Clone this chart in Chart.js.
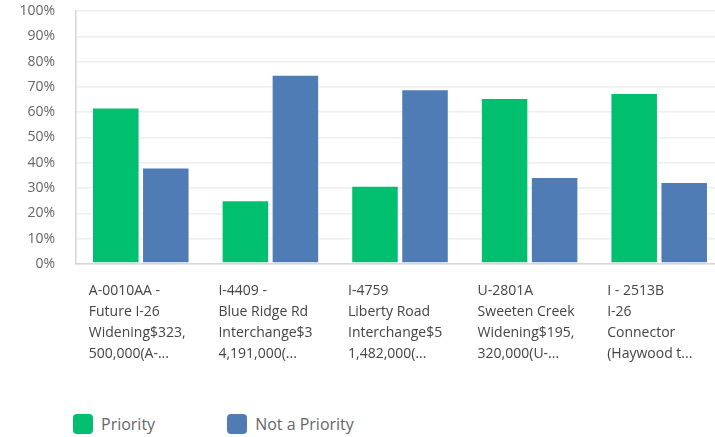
<!DOCTYPE html>
<html>
<head>
<meta charset="utf-8">
<script src="https://cdn.jsdelivr.net/npm/chart.js"></script>
<style>
    html, body { margin: 0; padding: 0; background: #fff; overflow: hidden; }
    body { width: 715px; height: 437px; position: relative; }
    #wrap { position: absolute; left: 0; top: 0; width: 726px; height: 400px; }
    #legend { position: absolute; left: 73px; top: 413px; display: flex; font: 16px "Open Sans", sans-serif; color: #666; }
    #legend .item { display: flex; align-items: center; margin-right: 72px; height: 21px; }
    #legend .box { width: 20px; height: 20px; border-radius: 4px; margin-right: 8px; }
</style>
</head>
<body>
<div id="wrap"><canvas id="surveyChart"></canvas></div>
<div id="legend"></div>
<script>
    // categories (x labels, already wrapped/truncated like the survey tool does)
    const projects = [
        ['A-0010AA -', 'Future I-26', 'Widening$323,', '500,000(A-...'],
        ['I-4409 -', 'Blue Ridge Rd', 'Interchange$3', '4,191,000(...'],
        ['I-4759', 'Liberty Road', 'Interchange$5', '1,482,000(...'],
        ['U-2801A', 'Sweeten Creek', 'Widening$195,', '320,000(U-...'],
        ['I - 2513B', 'I-26', 'Connector', '(Haywood t...']
    ];

    // percent of responses
    const priority    = [61.9, 25.2, 30.9, 65.6, 67.6];
    const notPriority = [38.1, 74.8, 69.1, 34.4, 32.4];

    const yTicks = [0, 10, 20, 30, 40, 50, 60, 70, 80, 90, 100];

    const green = '#00bf6f';
    const blue = '#507cb6';
    const fontFamily = '"Open Sans", sans-serif';

    const chart = new Chart(document.getElementById('surveyChart'), {
        type: 'bar',
        data: {
            labels: projects,
            datasets: [
                { label: 'Priority', data: priority, backgroundColor: green },
                { label: 'Not a Priority', data: notPriority, backgroundColor: blue }
            ]
        },
        options: {
            responsive: true,
            maintainAspectRatio: false,
            animation: false,
            layout: { padding: { left: 0, right: 2, top: 11, bottom: 0 } },
            datasets: {
                bar: {
                    categoryPercentage: 0.772,
                    barPercentage: 0.95,
                    borderWidth: 1,
                    borderColor: 'rgba(255,255,255,0.45)',
                    borderSkipped: false
                }
            },
            plugins: {
                legend: { display: false },
                tooltip: { enabled: false }
            },
            scales: {
                x: {
                    grid: { display: false },
                    border: { color: '#d6d6d6', width: 1.5 },
                    ticks: {
                        autoSkip: false,
                        maxRotation: 0,
                        minRotation: 0,
                        align: 'start',
                        labelOffset: -52,
                        padding: 9,
                        color: '#444',
                        font: { family: fontFamily, size: 14, lineHeight: 1.48 }
                    },
                    afterFit: (scale) => {
                        scale.height = 136;
                        scale.paddingLeft = 0;
                        scale.paddingRight = 0;
                    }
                },
                y: {
                    min: 0,
                    max: 100,
                    afterBuildTicks: (scale) => { scale.ticks = yTicks.map(v => ({ value: v })); },
                    grid: { color: '#eeeeee', lineWidth: 1.5, drawTicks: false },
                    border: { color: '#d6d6d6', width: 1.5 },
                    ticks: {
                        padding: 21,
                        color: '#666',
                        font: { family: fontFamily, size: 14 },
                        callback: (v) => v + '%'
                    },
                    afterFit: (scale) => {
                        scale.width = 76;
                        scale.paddingTop = 0;
                        scale.paddingBottom = 0;
                    }
                }
            }
        }
    });

    // legend built from the chart's own datasets
    const legend = document.getElementById('legend');
    chart.data.datasets.forEach(ds => {
        const item = document.createElement('div');
        item.className = 'item';
        const box = document.createElement('span');
        box.className = 'box';
        box.style.background = ds.backgroundColor;
        const txt = document.createElement('span');
        txt.textContent = ds.label;
        item.appendChild(box);
        item.appendChild(txt);
        legend.appendChild(item);
    });
</script>
</body>
</html>
